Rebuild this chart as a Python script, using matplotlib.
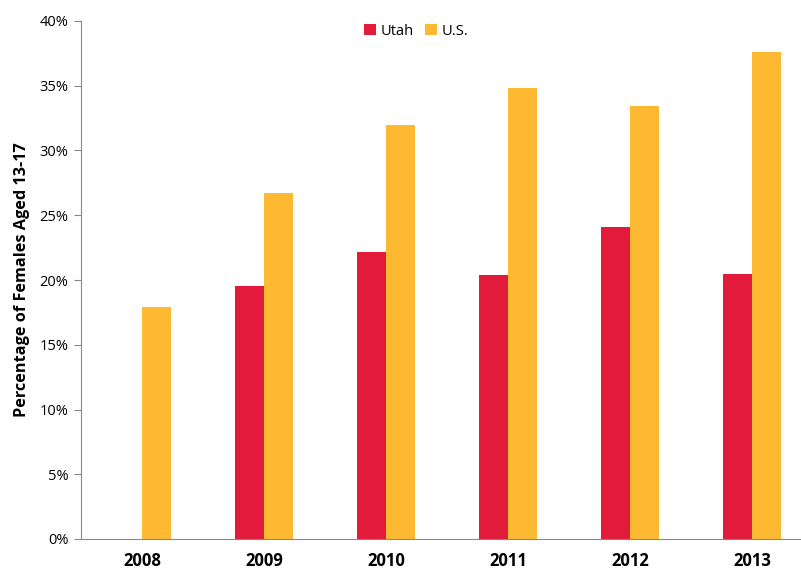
import matplotlib
matplotlib.use('Agg')
import matplotlib.pyplot as plt
import numpy as np

years = ['2008', '2009', '2010', '2011', '2012', '2013']
utah = [np.nan, 19.5, 22.2, 20.4, 24.1, 20.5]
us = [17.9, 26.7, 32.0, 34.8, 33.4, 37.6]

plt.rcParams['font.family'] = ['Open Sans', 'DejaVu Sans']

fig = plt.figure(figsize=(8.01, 5.72), dpi=100)
ax = fig.add_axes([81 / 801, 33 / 572, 732 / 801, 518 / 572])

x = np.arange(len(years))
w = 0.238
ax.bar(x - w / 2, utah, w, color='#E31B3B', label='Utah')
ax.bar(x + w / 2, us, w, color='#FDB931', label='U.S.')

ax.set_xlim(-0.5, 5.5)
ax.set_ylim(0, 40)
ax.set_yticks(range(0, 41, 5))
ax.set_yticklabels([f'{v}%' for v in range(0, 41, 5)], fontsize=10.5)
ax.set_xticks(x)
ax.set_xticklabels(years, fontsize=12, fontweight='bold')
ax.tick_params(axis='x', length=0, pad=9)
ax.tick_params(axis='y', length=5, color='#888888', pad=4)
ax.set_ylabel('Percentage of Females Aged 13-17', fontsize=11.7, fontweight='bold', labelpad=7)

for s in ['top', 'right']:
    ax.spines[s].set_visible(False)
for s in ['left', 'bottom']:
    ax.spines[s].set_color('#888888')

ax.legend(loc='upper center', bbox_to_anchor=(0.458, 1.02), ncol=2, frameon=False,
          fontsize=10.5, handlelength=0.8, handleheight=0.8, handletextpad=0.3, columnspacing=0.8)

fig.savefig('out.png', dpi=100)
